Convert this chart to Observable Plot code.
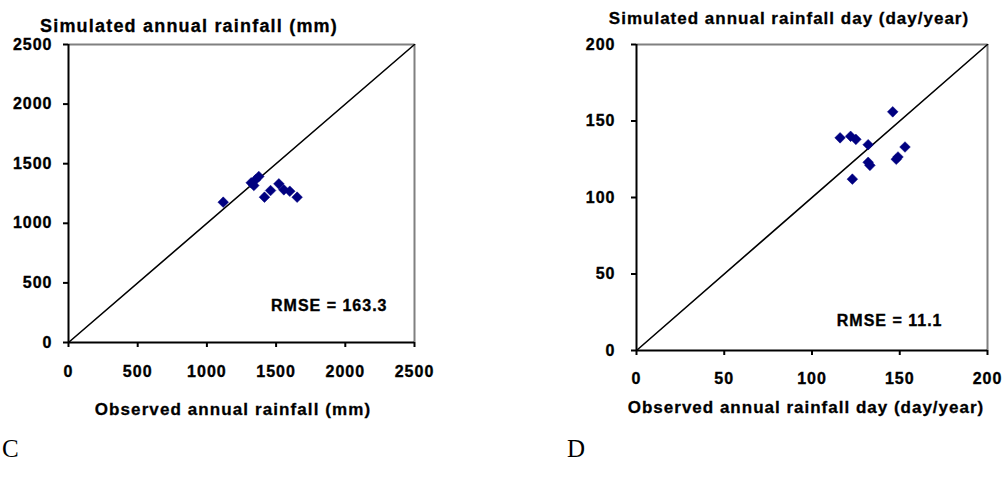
<!DOCTYPE html>
<html><head><meta charset="utf-8">
<script src="https://cdn.jsdelivr.net/npm/d3@7"></script>
<script src="https://cdn.jsdelivr.net/npm/@observablehq/plot@0.6"></script>
<style>
body{margin:0;background:#fff;}
#wrap{position:relative;width:1003px;height:481px;overflow:hidden;background:#fff;font-family:"Liberation Sans",Arial,sans-serif;}
#wrap svg text{font-weight:bold !important;font-family:"Liberation Sans",Arial,sans-serif !important;stroke:#000 !important;stroke-width:0.35px !important;fill:#000 !important;}
.t{position:absolute;font-weight:bold;white-space:nowrap;transform:translate(-50%,-50%);color:#000;font-size:18px;letter-spacing:1.2px;-webkit-text-stroke:0.3px #000;}
.p{position:absolute;top:0;}
.lab{position:absolute;font-family:"Liberation Serif","Times New Roman",serif;font-size:25px;line-height:1;}
</style></head><body><div id="wrap"></div>
<script>
// Panel C: annual rainfall (mm)
const obsRain = [1118, 1320, 1339, 1351, 1375, 1416, 1460, 1520, 1556, 1599, 1652];
const simRain = [1177, 1340, 1317, 1365, 1393, 1219, 1275, 1331, 1281, 1269, 1219];
// Panel D: annual rainfall days (day/year)
const obsDays = [146, 116, 122, 125, 132, 153, 149, 148, 132, 133, 123];
const simDays = [156, 139, 140, 138, 134.5, 133, 126.5, 125, 123, 121, 112];
const rainTicks = [0, 500, 1000, 1500, 2000, 2500];
const dayTicks = [0, 50, 100, 150, 200];
const rainRange = [0, 2500];
const dayRange = [0, 200];
const rmseRain = "RMSE = 163.3";
const rmseDays = "RMSE = 11.1";
const titles = {
  cY: "Simulated annual rainfall (mm)",
  cX: "Observed annual rainfall (mm)",
  dY: "Simulated annual rainfall day (day/year)",
  dX: "Observed annual rainfall day (day/year)"
};
const panelLabels = ["C", "D"];

function chart(o) {
  const data = o.obs.map((x, i) => ({x, y: o.sim[i]}));
  const diag = o.range.map(v => ({x: v, y: v}));
  const axisText = {fontSize: 16, fontWeight: "bold"};
  return Plot.plot({
    width: o.width, height: o.height,
    marginLeft: o.ml, marginRight: o.mr, marginTop: o.mt, marginBottom: o.mb,
    x: {domain: o.range},
    y: {domain: o.range},
    style: {fontFamily: "Liberation Sans, Arial, sans-serif", fontSize: "16px", fontWeight: "bold", letterSpacing: "1px", color: "#000", background: "transparent"},
    marks: [
      Plot.ruleY([o.range[1]], {stroke: "#808080", strokeWidth: 2}),
      Plot.ruleX([o.range[1]], {stroke: "#808080", strokeWidth: 2}),
      Plot.axisX({ticks: o.ticks, tickSize: 5, tickPadding: o.xpad, label: null, tickFormat: d => String(d), strokeWidth: 2, ...axisText}),
      Plot.axisY({ticks: o.ticks, tickSize: 5, tickPadding: o.ypad, label: null, tickFormat: d => String(d), strokeWidth: 2, ...axisText}),
      Plot.ruleX([o.range[0]], {stroke: "#000", strokeWidth: 2}),
      Plot.ruleY([o.range[0]], {stroke: "#000", strokeWidth: 2}),
      Plot.line(diag, {x: "x", y: "y", stroke: "#000", strokeWidth: 1.6}),
      Plot.dot(data, {x: "x", y: "y", symbol: "diamond2", r: 4.8, fill: "#000080", stroke: "#000080", strokeWidth: 0.5}),
      Plot.text([o.rmse], {frameAnchor: "bottom-right", text: d => d, textAnchor: "end", lineAnchor: "middle", dx: o.rdx, dy: o.rdy, fontSize: 16, fontWeight: "bold", fill: "#000"})
    ]
  });
}

const wrap = document.getElementById("wrap");
const c = chart({obs: obsRain, sim: simRain, range: rainRange, ticks: rainTicks,
  width: 450, height: 420, ml: 68, mr: 36, mt: 44, mb: 78, xpad: 18, ypad: 11,
  rmse: rmseRain, rdx: -27, rdy: -37});
c.classList.add("p"); c.style.left = "0px";
wrap.appendChild(c);
const d = chart({obs: obsDays, sim: simDays, range: dayRange, ticks: dayTicks,
  width: 1003 - 560, height: 420, ml: 636 - 560, mr: 1003 - 987, mt: 44, mb: 70, xpad: 17, ypad: 16,
  rmse: rmseDays, rdx: -45, rdy: -30});
d.classList.add("p"); d.style.left = "560px";
wrap.appendChild(d);

function addText(txt, x, y, cls, extra) {
  const el = document.createElement("div");
  el.className = cls; el.textContent = txt;
  el.style.left = x + "px"; el.style.top = y + "px";
  if (extra) Object.assign(el.style, extra);
  wrap.appendChild(el);
}
addText(titles.cY, 189, 26, "t");
addText(titles.cX, 233, 410, "t", {fontSize: "17px", letterSpacing: "1.1px"});
addText(titles.dY, 789, 19, "t", {fontSize: "17px", letterSpacing: "1px"});
addText(titles.dX, 806, 408, "t", {fontSize: "17px", letterSpacing: "1px"});
addText(panelLabels[0], 2, 436, "lab");
addText(panelLabels[1], 567, 436, "lab");
</script></body></html>
